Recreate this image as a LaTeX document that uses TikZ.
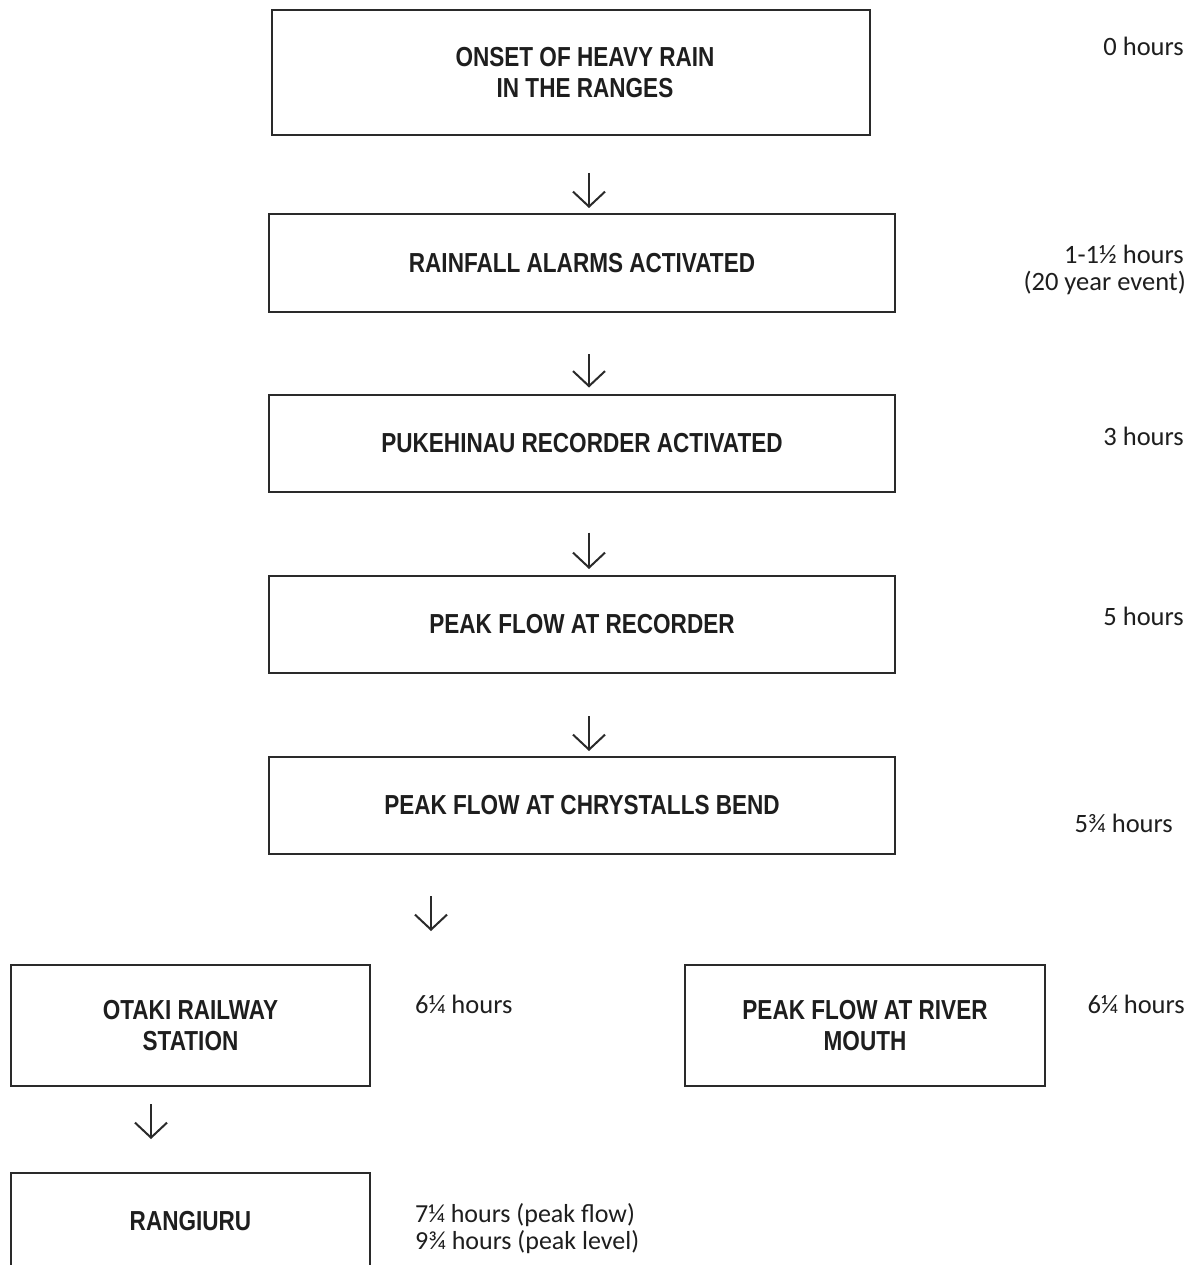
\documentclass[tikz,border=0pt]{standalone}
\usepackage{fontspec}
\setmainfont{Carlito}
\newfontfamily\boxfont[FakeStretch=0.82]{Liberation Sans}
\usetikzlibrary{arrows.meta}
\definecolor{linegray}{HTML}{2A2A2A}
\definecolor{txt}{HTML}{1E1E1E}
\begin{document}
\begin{tikzpicture}[x=1pt,y=-1pt,
  stepbox/.style={draw=linegray, line width=2pt, inner sep=0pt, align=center, text=txt,
    font=\boxfont\bfseries\fontsize{27.5}{31}\selectfont},
  flow/.style={draw=linegray, line width=2pt, -{Straight Barb[length=15pt,width=32pt]}},
  timetext/.style={font=\fontsize{26.5}{28}\selectfont, text=txt, inner sep=0pt},
]
\useasboundingbox (0,0) rectangle (1196,1265);
\clip (0,0) rectangle (1196,1265);
\fill[white] (0,0) rectangle (1196,1265);

% boxes
\node[stepbox, minimum width=598pt, minimum height=125pt] (b1) at (571,72.5) {\hspace*{28pt}ONSET OF HEAVY RAIN\\\hspace*{28pt}IN THE RANGES};
\node[stepbox, minimum width=626pt, minimum height=98pt] (b2) at (582,263) {RAINFALL ALARMS ACTIVATED};
\node[stepbox, minimum width=626pt, minimum height=97pt] (b3) at (582,443) {PUKEHINAU RECORDER ACTIVATED};
\node[stepbox, minimum width=626pt, minimum height=97pt] (b4) at (582,624.5) {PEAK FLOW AT RECORDER};
\node[stepbox, minimum width=626pt, minimum height=97pt] (b5) at (582,805.5) {PEAK FLOW AT CHRYSTALLS BEND};
\node[stepbox, minimum width=359pt, minimum height=121pt] (b6) at (190.5,1025.5) {OTAKI RAILWAY\\STATION};
\node[stepbox, minimum width=360pt, minimum height=121pt] (b7) at (865,1025.5) {PEAK FLOW AT RIVER\\MOUTH};
\node[stepbox, minimum width=359pt, minimum height=96pt] (b8) at (190.5,1221) {RANGIURU};

% arrow columns
\coordinate (ax) at (589,0);
\coordinate (bx) at (431,0);
\coordinate (cx) at (151,0);

\draw[flow, shorten <=37pt, shorten >=5pt] (b1.south -| ax) -- (b2.north -| ax);
\draw[flow, shorten <=41pt, shorten >=6pt] (b2.south -| ax) -- (b3.north -| ax);
\draw[flow, shorten <=40pt, shorten >=6pt] (b3.south -| ax) -- (b4.north -| ax);
\draw[flow, shorten <=42pt, shorten >=5pt] (b4.south -| ax) -- (b5.north -| ax);
\draw[flow, shorten <=41pt, shorten >=33pt] (b5.south -| bx) -- (b6.north -| bx);
\draw[flow, shorten <=17pt, shorten >=33pt] (b6.south -| cx) -- (b8.north -| cx);

% times
\node[timetext, anchor=base east] (t0) at (1184,56) {0 hours};
\node[timetext, anchor=base east] (t1) at (1184,263) {1-1½ hours};
\node[timetext, anchor=base east] (t1b) at (1186,290) {(20 year event)};
\node[timetext, anchor=base east] (t3) at (1184,445) {3 hours};
\node[timetext, anchor=base east] (t5) at (1184,625) {5 hours};
\node[timetext, anchor=base east] (t5b) at (1173,832) {5¾ hours};
\node[timetext, anchor=base east] (t6r) at (1185,1013) {6¼ hours};
\node[timetext, anchor=base west] (t6l) at (415,1013) {6¼ hours};
\node[timetext, anchor=base west, font=\fontsize{26}{28}\selectfont] (t7) at (415,1222) {7¼ hours (peak flow)};
\node[timetext, anchor=base west, font=\fontsize{26}{28}\selectfont] (t9) at (415,1249) {9¾ hours (peak level)};
\end{tikzpicture}
\end{document}
